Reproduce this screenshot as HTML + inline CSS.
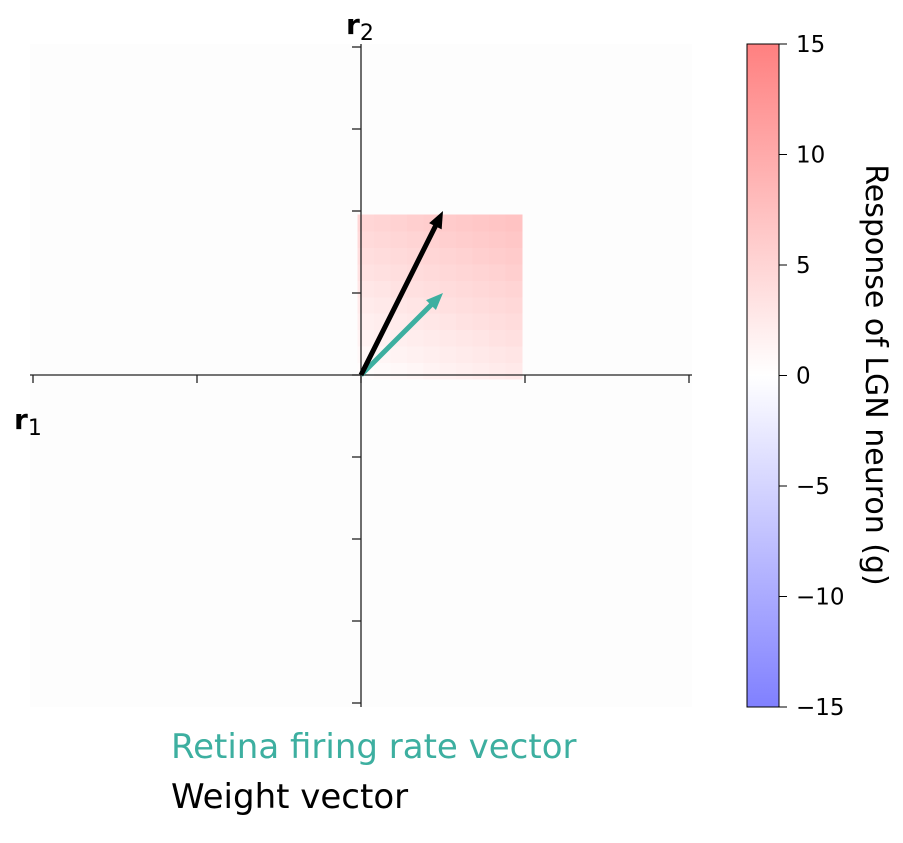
<!DOCTYPE html>
<html><head><meta charset="utf-8"><style>
body{margin:0;background:#fff;}
svg{display:block;font-family:"DejaVu Sans","Liberation Sans",sans-serif;}
</style></head><body>
<svg id="chart" width="903" height="843" viewBox="0 0 903 843">
<defs>
<linearGradient id="cbar" x1="0" y1="1" x2="0" y2="0">
<stop offset="0" stop-color="#8080ff"/><stop offset="0.5" stop-color="#ffffff"/><stop offset="1" stop-color="#ff8080"/>
</linearGradient>
</defs>
<rect x="30" y="44" width="662" height="663" fill="#fdfdfd"/>
<g id="heat" shape-rendering="crispEdges"></g>
<g id="axes"></g>
<g id="vecs"></g>
<text x="346" y="34" font-size="28" font-weight="bold">r<tspan font-weight="normal" font-size="22" dy="6">2</tspan></text>
<text x="14" y="429" font-size="28" font-weight="bold">r<tspan font-weight="normal" font-size="22" dy="6">1</tspan></text>
<rect x="747" y="44" width="32" height="663" fill="url(#cbar)" stroke="#000" stroke-width="1"/>
<g id="cbticks"></g>
<text transform="translate(866,375) rotate(90)" text-anchor="middle" font-size="30" fill="#000">Response of LGN neuron (g)</text>
<text x="171" y="758" font-size="34" fill="#3dafa0">Retina firing rate vector</text>
<text x="171" y="808" font-size="34" fill="#000">Weight vector</text>
</svg>
<script>
const xTicks=[-2,-1,0,1,2];
const yTicks=[-2,-1.5,-1,-0.5,0,0.5,1,1.5,2];
const cbTicks=[15,10,5,0,-5,-10,-15];
const cbLabels=["15","10","5","0","\u22125","\u221210","\u221215"];
const weightVec=[0.5,1];
const retinaVec=[0.5,0.5];
const gridVals=[0,0.1,0.2,0.3,0.4,0.5,0.6,0.7,0.8,0.9];
const gain=5;
const NS="http://www.w3.org/2000/svg";
const X=v=>361+v*164, Y=v=>375-v*164, C=v=>375.5-v*(663/30);
function mk(t,a,p){const e=document.createElementNS(NS,t);for(const k in a)e.setAttribute(k,a[k]);p.appendChild(e);return e;}
const heat=document.getElementById('heat');
const step=0.0985;
gridVals.forEach(r1=>{gridVals.forEach(r2=>{
 const g=gain*(weightVec[0]*(r1+step/2)+weightVec[1]*(r2+step/2));
 const f=Math.max(0,Math.min(1,g/15));
 const gb=Math.round(255-f*127);
 const c=mk('rect',{x:X(r1-0.02),y:Y(r2-0.02+step),width:step*164+1,height:step*164+1,fill:`rgb(255,${gb},${gb})`},heat);
 
 
});});
const ax=document.getElementById('axes');
const xl=mk('line',{x1:30,y1:375,x2:692,y2:375,stroke:'#222','stroke-width':1.3},ax);

const yl=mk('line',{x1:361,y1:44,x2:361,y2:707,stroke:'#222','stroke-width':1.3},ax);

xTicks.forEach(v=>{const t=mk('line',{x1:X(v),y1:375,x2:X(v),y2:383,stroke:'#222','stroke-width':1.3},ax);
 });
yTicks.forEach(v=>{const y=Math.max(46,Math.min(703,375-v*164));const t=mk('line',{x1:352,y1:y,x2:361,y2:y,stroke:'#222','stroke-width':1.3},ax);
 });
const vg=document.getElementById('vecs');
function arrow(v,col,w,hw,hl,name){
 const x1=X(v[0]),y1=Y(v[1]),dx=x1-361,dy=y1-375,L=Math.hypot(dx,dy),ux=dx/L,uy=dy/L;
 const bx=x1-ux*hl,by=y1-uy*hl;
 const l=mk('line',{x1:361,y1:375,x2:bx+ux*2,y2:by+uy*2,stroke:col,'stroke-width':w},vg);
 
 const p=mk('polygon',{points:`${x1},${y1} ${bx-uy*hw},${by+ux*hw} ${bx+uy*hw},${by-ux*hw}`,fill:col},vg);
 
}
arrow(retinaVec,'#3dafa0',5,7,17,'retina-vector');
arrow(weightVec,'#000',5,7,17,'weight-vector');
const cb=document.getElementById('cbticks');
cbTicks.forEach((v,i)=>{
 const t=mk('line',{x1:779,y1:C(v),x2:787,y2:C(v),stroke:'#000','stroke-width':1},cb);
 
 const tx=mk('text',{x:796,y:C(v)+8,'font-size':23,fill:'#000'},cb);tx.textContent=cbLabels[i];
 
});
</script>
</body></html>
